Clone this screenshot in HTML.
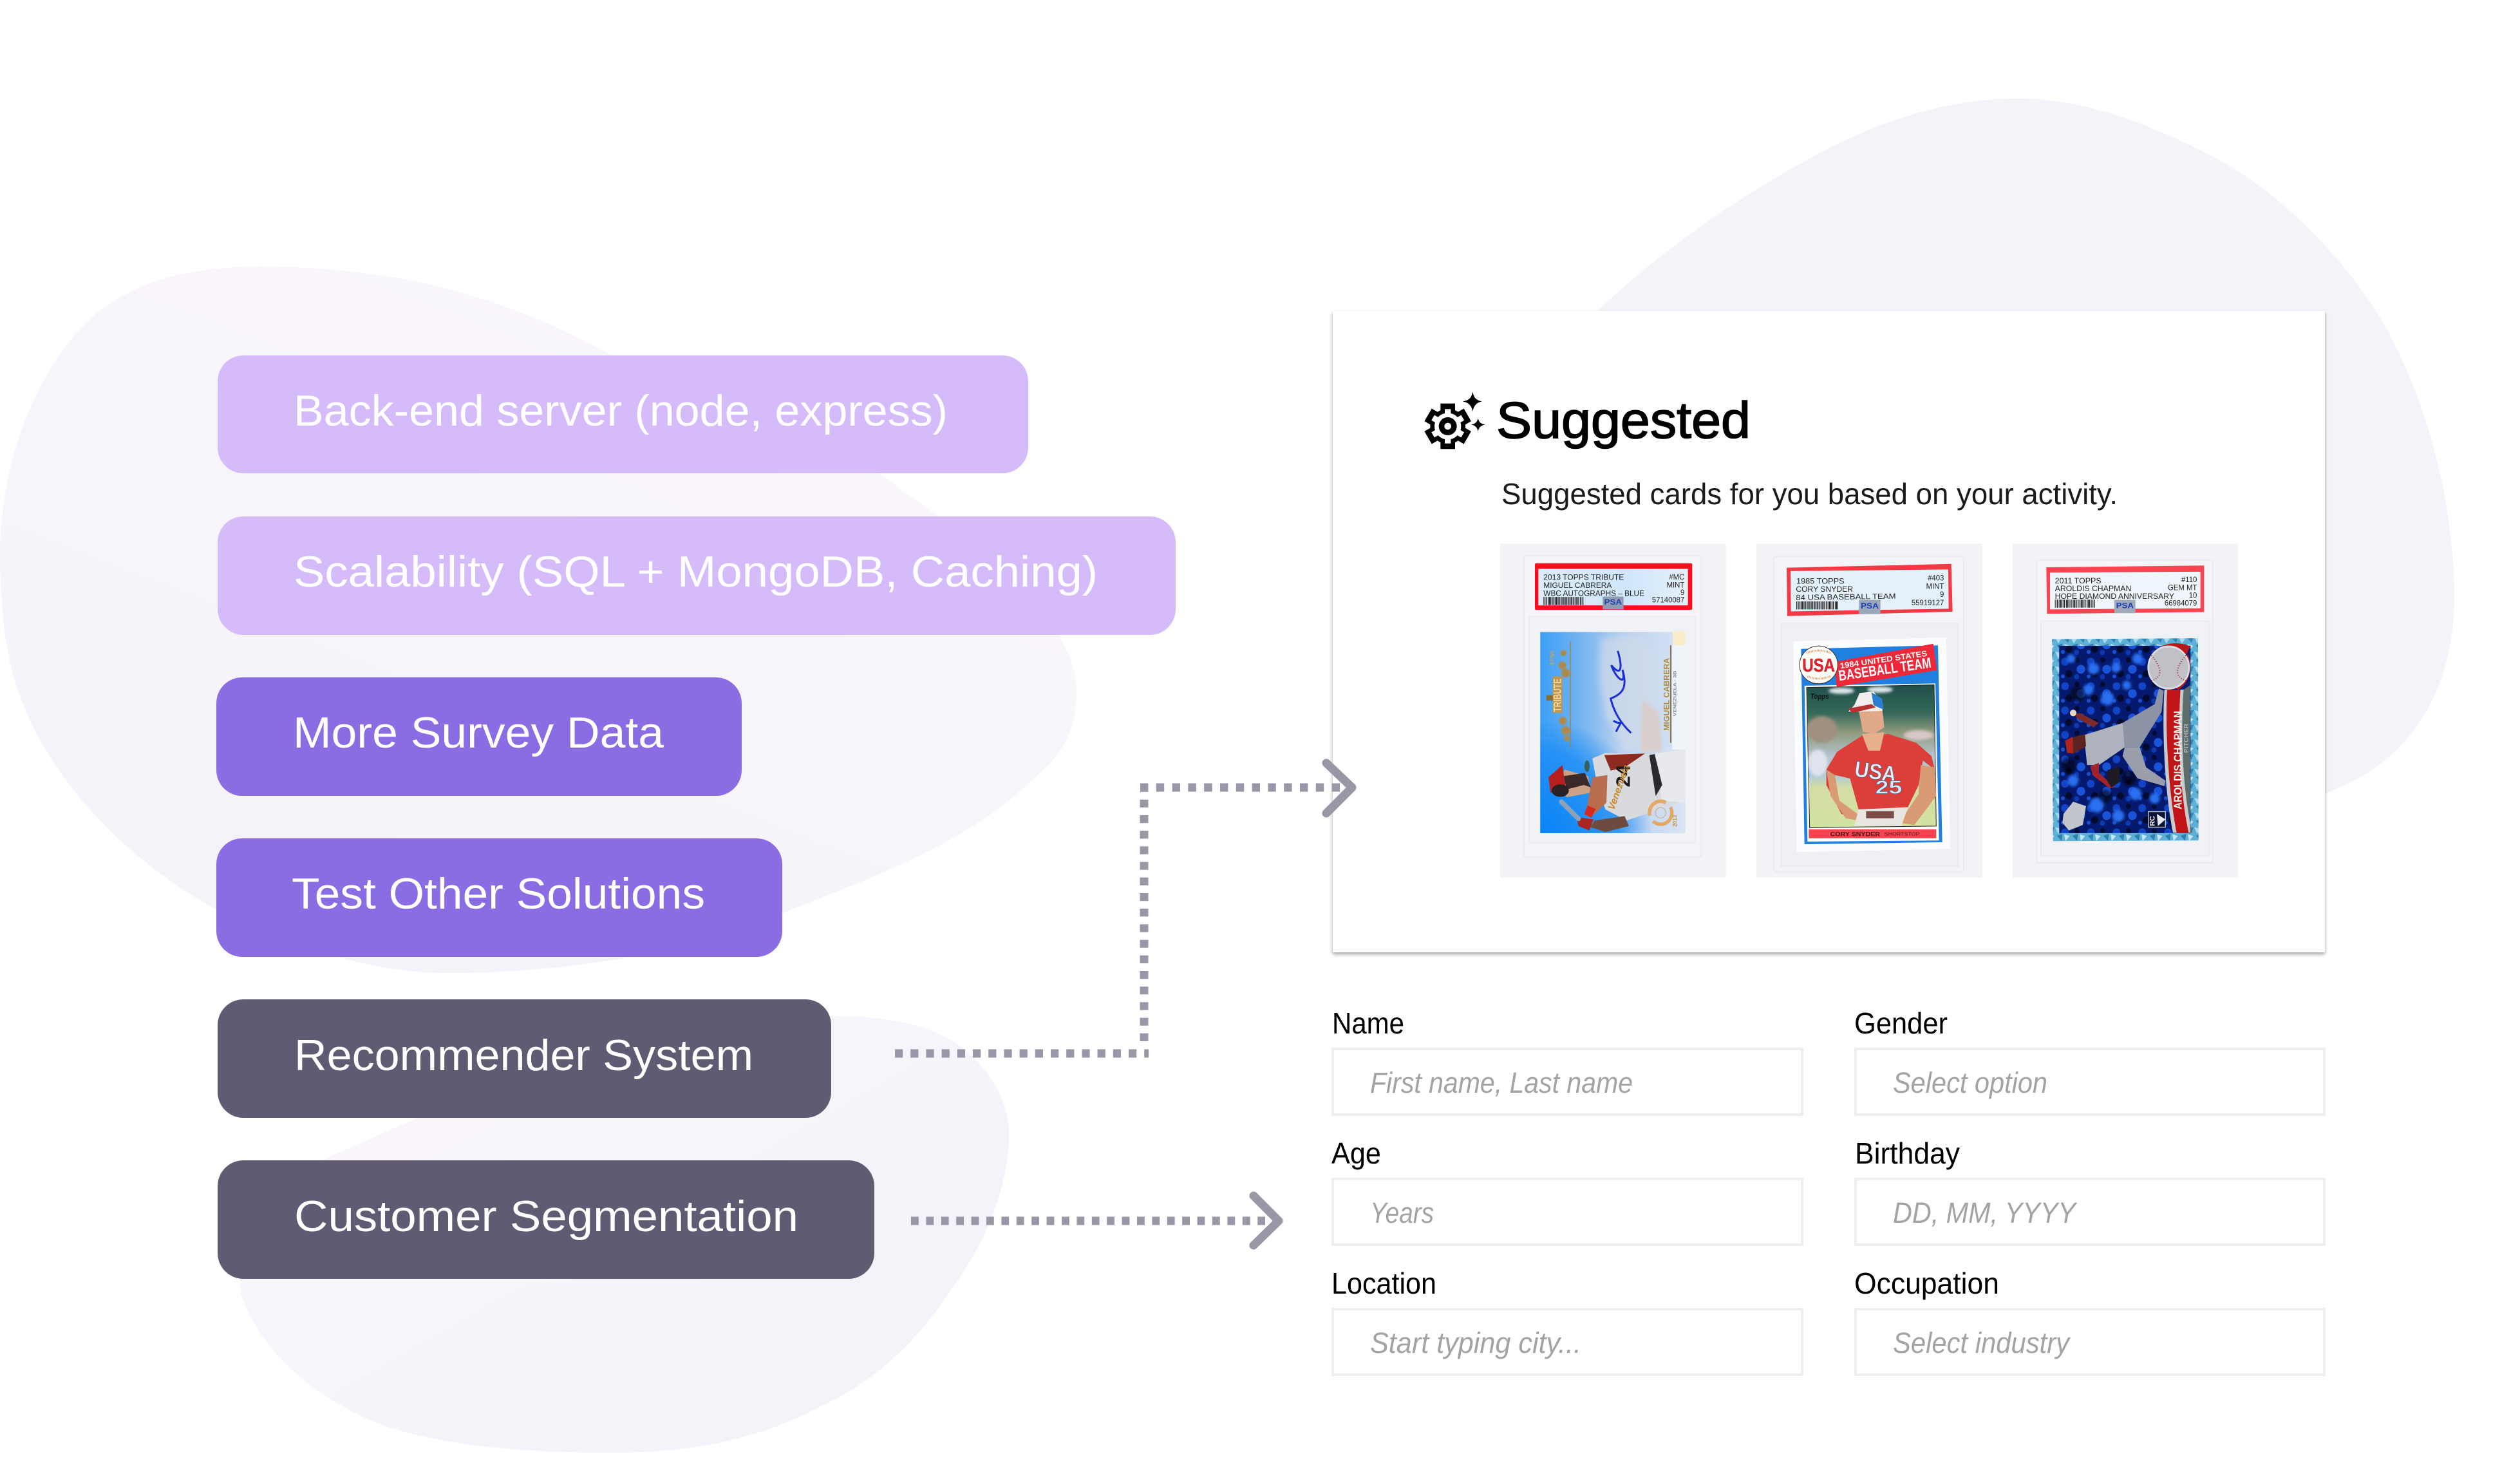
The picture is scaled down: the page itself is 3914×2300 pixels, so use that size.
<!DOCTYPE html>
<html><head><meta charset="utf-8"><title>Recommender diagram</title>
<style>html,body{margin:0;padding:0;background:#fff}svg{display:block}text{font-family:"Liberation Sans",sans-serif}</style></head>
<body>
<svg width="3914" height="2300" viewBox="0 0 3914 2300" xmlns="http://www.w3.org/2000/svg">
<defs>
<filter id="b2" x="-20%" y="-20%" width="140%" height="140%"><feGaussianBlur stdDeviation="2"/></filter>
<filter id="b6" x="-20%" y="-20%" width="140%" height="140%"><feGaussianBlur stdDeviation="6"/></filter>
<filter id="b14" x="-30%" y="-30%" width="160%" height="160%"><feGaussianBlur stdDeviation="14"/></filter>
<filter id="sh" x="-3%" y="-3%" width="106%" height="106%"><feDropShadow dx="0" dy="3" stdDeviation="3" flood-color="#555" flood-opacity=".55"/></filter>
<linearGradient id="bl" x1="1" y1="0" x2="0.4" y2="1"><stop offset="0" stop-color="#fbf7fc"/><stop offset="1" stop-color="#f5f2fa"/></linearGradient>
<linearGradient id="bl2" x1="0" y1="0" x2="1" y2="1"><stop offset="0" stop-color="#fbf7fc"/><stop offset=".7" stop-color="#f5f2fa"/></linearGradient>
<linearGradient id="sky" gradientUnits="userSpaceOnUse" x1="217" y1="0" x2="893" y2="0"><stop offset="0" stop-color="#3d9ff5"/><stop offset=".3" stop-color="#78b5f1"/><stop offset=".55" stop-color="#b6cfee"/><stop offset="1" stop-color="#dae5f4"/></linearGradient>
<radialGradient id="deep" gradientUnits="userSpaceOnUse" cx="217" cy="1347" r="520"><stop offset="0" stop-color="#0a84f7"/><stop offset=".7" stop-color="#1a8cf6" stop-opacity=".8"/><stop offset="1" stop-color="#1a8cf6" stop-opacity="0"/></radialGradient>
<linearGradient id="lab" x1="0" y1="0" x2="1" y2="0"><stop offset="0" stop-color="#dcecf9"/><stop offset=".6" stop-color="#cfe7fb"/><stop offset="1" stop-color="#e6f0fa"/></linearGradient>
<linearGradient id="field" x1="0" y1="0" x2="0" y2="1"><stop offset="0" stop-color="#1f4f49"/><stop offset=".2" stop-color="#37695a"/><stop offset=".33" stop-color="#8e9a7c"/><stop offset=".5" stop-color="#b5c3cf"/><stop offset=".62" stop-color="#a8c8dd"/><stop offset=".72" stop-color="#d5dca6"/><stop offset="1" stop-color="#d2e3a0"/></linearGradient>
<pattern id="spark" width="72" height="66" patternUnits="userSpaceOnUse"><rect width="72" height="66" fill="#5fb0d4"/><polygon points="0,0 30,8 14,30" fill="#a9dcef"/><polygon points="38,4 70,0 60,26" fill="#2f83b5"/><polygon points="8,38 34,30 30,62" fill="#2c7eae"/><polygon points="42,32 68,40 48,62" fill="#c4e8f4"/></pattern>
<pattern id="dark" width="120" height="110" patternUnits="userSpaceOnUse"><rect width="120" height="110" fill="#051a6e"/><circle cx="22" cy="24" r="18" fill="#1143c4"/><circle cx="78" cy="16" r="12" fill="#020b33"/><circle cx="96" cy="58" r="20" fill="#1a52d8"/><circle cx="40" cy="78" r="16" fill="#020a2e"/><circle cx="76" cy="92" r="12" fill="#0d3ab0"/><circle cx="12" cy="90" r="9" fill="#1650d0"/></pattern>
</defs>

<rect width="3914" height="2300" fill="#fff"/>

<!-- background blobs -->
<path d="M0,854 C2,710 60,575 133,502 C200,435 300,414 400,414 C640,414 800,470 948,550 C1130,620 1260,660 1373,741 C1500,830 1672,960 1672,1071 C1672,1150 1640,1180 1597,1217 C1500,1310 1350,1365 1223,1415 C1070,1480 880,1511 699,1511 C560,1511 450,1465 337,1413 C200,1340 60,1200 20,1046 C5,990 0,920 0,854Z" fill="url(#bl)"/>
<path d="M1298,1578 C1400,1578 1470,1600 1510,1640 C1555,1685 1570,1730 1567,1775 C1560,1870 1520,1945 1473,2009 C1420,2090 1350,2150 1273,2185 C1170,2240 1060,2256 948,2256 C810,2256 690,2245 599,2215 C480,2170 400,2090 374,2009 C365,1950 420,1870 503,1800 L644,1738 C860,1620 1100,1578 1298,1578Z" fill="url(#bl2)"/>
<path d="M2482,482 C2580,390 2680,320 2786,260 C2880,205 3000,153 3134,153 C3240,153 3350,195 3462,257 C3550,310 3640,400 3699,497 C3770,620 3811,780 3812,925 C3812,1060 3755,1180 3612,1232 L2482,1232Z" fill="#f5f2fa"/>

<!-- pills -->
<g>
<rect x="338" y="552" width="1259" height="183" rx="40" fill="#d6bbfa"/>
<rect x="338" y="802" width="1488" height="184" rx="40" fill="#d6bbfa"/>
<rect x="336" y="1052" width="816" height="184" rx="40" fill="#8b6de3"/>
<rect x="336" y="1302" width="879" height="184" rx="40" fill="#8b6de3"/>
<rect x="338" y="1552" width="953" height="184" rx="40" fill="#605a72"/>
<rect x="338" y="1802" width="1020" height="184" rx="40" fill="#605a72"/>
</g>
<g fill="#fff" font-size="68">
<text x="456" y="661" textLength="1016" lengthAdjust="spacingAndGlyphs">Back-end server (node, express)</text>
<text x="456" y="911" textLength="1249" lengthAdjust="spacingAndGlyphs">Scalability (SQL + MongoDB, Caching)</text>
<text x="455" y="1161" textLength="576" lengthAdjust="spacingAndGlyphs">More Survey Data</text>
<text x="453" y="1411" textLength="642" lengthAdjust="spacingAndGlyphs">Test Other Solutions</text>
<text x="457" y="1662" textLength="713" lengthAdjust="spacingAndGlyphs">Recommender System</text>
<text x="457" y="1912" textLength="783" lengthAdjust="spacingAndGlyphs">Customer Segmentation</text>
</g>

<!-- suggested panel -->
<rect x="2070" y="483" width="1541" height="996" fill="#fff" filter="url(#sh)"/>

<!-- gear icon -->
<g transform="translate(2200 590) scale(.3333)">
<g fill="#000"><circle cx="146" cy="216" r="82"/>
<rect x="112" y="110" width="68" height="212"/>
<rect x="112" y="110" width="68" height="212" transform="rotate(60 146 216)"/>
<rect x="112" y="110" width="68" height="212" transform="rotate(120 146 216)"/></g>
<g fill="#fff"><circle cx="146" cy="216" r="62"/>
<rect x="132" y="136" width="28" height="160"/>
<rect x="132" y="136" width="28" height="160" transform="rotate(60 146 216)"/>
<rect x="132" y="136" width="28" height="160" transform="rotate(120 146 216)"/></g>
<circle cx="146" cy="216" r="42" fill="#000"/><circle cx="146" cy="216" r="16" fill="#fff"/>
<path d="M262,55 C268,85 280,95 305,100 C280,106 268,118 262,147 C256,118 244,106 215,100 C244,95 256,85 262,55Z" fill="#000"/>
<path d="M287,178 C291,198 300,204 320,208 C300,213 291,220 287,240 C283,220 274,213 255,208 C274,204 283,198 287,178Z" fill="#000"/>
</g>
<text x="2324" y="680" font-size="80" fill="#000" stroke="#000" stroke-width="1.6" textLength="395" lengthAdjust="spacingAndGlyphs">Suggested</text>
<text x="2332" y="783" font-size="46" fill="#1a1a1a" textLength="957" lengthAdjust="spacingAndGlyphs">Suggested cards for you based on your activity.</text>

<!-- CARD 1 -->
<g transform="translate(2320 830) scale(.3333 .3444)">
<rect x="30" y="42" width="1052" height="1506" fill="#f2f3f6"/>
<rect x="140" y="95" width="825" height="1360" rx="10" fill="#f4f5f8" stroke="#e9ebf0" stroke-width="6"/>
<rect x="165" y="370" width="775" height="1020" fill="#f1f2f6" stroke="#e9ebf0" stroke-width="5"/>
<rect x="192" y="130" width="733" height="210" rx="6" fill="#fb0d1e"/>
<rect x="208" y="155" width="697" height="165" fill="url(#lab)"/>
<g font-size="34" fill="#222">
<text x="232" y="205" textLength="375" lengthAdjust="spacingAndGlyphs">2013 TOPPS TRIBUTE</text>
<text x="232" y="241" textLength="318" lengthAdjust="spacingAndGlyphs">MIGUEL CABRERA</text>
<text x="232" y="277" textLength="470" lengthAdjust="spacingAndGlyphs">WBC AUTOGRAPHS – BLUE</text>
<g text-anchor="end"><text x="889" y="203">#MC</text><text x="889" y="239">MINT</text><text x="889" y="273">9</text><text x="889" y="307">57140087</text></g>
</g>
<line x1="232" y1="300" x2="418" y2="300" stroke="#222" stroke-width="36" stroke-dasharray="3 2 2 3 4 2 1 3 3 2 5 2"/>
<rect x="508" y="280" width="97" height="58" fill="#8e9db5"/>
<text x="515" y="316" font-size="34" font-weight="bold" fill="#1c3fa8" textLength="82" lengthAdjust="spacingAndGlyphs">PSA</text>
<!-- card picture -->
<rect x="217" y="440" width="676" height="907" fill="url(#sky)"/>
<rect x="217" y="830" width="520" height="517" fill="url(#deep)"/>
<polygon points="500,470 690,460 750,540 745,960 620,990 520,820 490,640" fill="#d6dde9" opacity=".6" filter="url(#b14)"/>
<polygon points="690,740 770,800 785,975 685,985" fill="#d8cfcd" filter="url(#b6)"/>
<polygon points="835,436 893,436 893,500 835,500" fill="#f9eec9"/>
<rect x="832" y="500" width="61" height="470" fill="#eff4fb"/>
<line x1="825" y1="500" x2="825" y2="940" stroke="#8f7444" stroke-width="6"/>
<line x1="357" y1="482" x2="357" y2="960" stroke="#a0843f" stroke-width="4"/>
<g fill="#b08a44" filter="url(#b2)" opacity=".95">
<circle cx="325" cy="535" r="14"/><circle cx="320" cy="590" r="18"/><circle cx="335" cy="625" r="20"/><circle cx="322" cy="840" r="18"/><circle cx="335" cy="885" r="20"/><circle cx="340" cy="920" r="13"/>
</g>
<rect x="275" y="640" width="45" height="165" fill="#bd9650"/>
<rect x="245" y="725" width="30" height="24" fill="#8a6b35"/>
<text transform="translate(313 800) rotate(-90)" font-size="50" font-weight="bold" fill="#f2d89a" font-family="Liberation Serif" textLength="150" lengthAdjust="spacingAndGlyphs">TRIBUTE</text>
<text transform="translate(280 590) rotate(-90)" font-size="26" font-weight="bold" fill="#c7a55a">47/50</text>
<path d="M578,525 C598,590 600,650 548,590 C570,650 620,690 600,610 C625,690 600,720 545,740 C560,800 590,850 640,895 M558,840 C600,870 610,810 570,890" fill="none" stroke="#1a2fd4" stroke-width="9"/>
<text transform="translate(818 885) rotate(-90)" font-size="36" font-weight="bold" fill="#b08a3e" font-family="Liberation Serif" textLength="328" lengthAdjust="spacingAndGlyphs">MIGUEL CABRERA</text>
<text transform="translate(850 820) rotate(-90)" font-size="20" font-weight="bold" fill="#7a8190" textLength="205" lengthAdjust="spacingAndGlyphs">VENEZUELA - 3B</text>
<!-- batter -->
<polygon points="460,1010 520,985 720,990 893,968 893,1200 770,1240 620,1290 520,1240 480,1120" fill="#d9dade"/>
<polygon points="740,990 893,968 893,1210 780,1200 770,1090" fill="#e7e9ef"/>
<polygon points="515,995 705,988 610,1050 545,1065" fill="#8f2a20"/>
<polygon points="725,995 750,990 785,1130 755,1180" fill="#2a2a2e"/>
<polygon points="330,1060 440,1090 452,1165 340,1185 300,1130" fill="#cba286"/>
<polygon points="325,1090 425,1075 452,1140 420,1130 340,1150" fill="#3a2a2b"/>
<polygon points="255,1095 320,1040 335,1140 265,1165" fill="#b5201e"/>
<ellipse cx="310" cy="1155" rx="40" ry="28" fill="#2a2123"/>
<polygon points="460,1095 530,1085 525,1210 465,1265 435,1225" fill="#b86e4e"/>
<polygon points="437,1222 475,1238 455,1278 422,1262" fill="#d62a20"/>
<polygon points="385,1275 465,1285 445,1335 395,1315" fill="#a8261f"/>
<line x1="315" y1="1205" x2="395" y2="1282" stroke="#8da1ba" stroke-width="22" stroke-linecap="round"/>
<polygon points="470,1290 610,1270 630,1315 520,1342 450,1320" fill="#6d4b3f"/>
<ellipse cx="435" cy="1045" rx="12" ry="26" fill="#385f5a"/>
<text transform="translate(635 1140) rotate(-90)" font-size="92" font-weight="bold" fill="#1f1a1a">24</text>
<text transform="translate(560 1245) rotate(-70)" font-size="44" font-weight="bold" font-style="italic" fill="#c98a24">Venezuela</text>
<circle cx="778" cy="1255" r="52" fill="none" stroke="#e2a865" stroke-width="16" stroke-dasharray="120 30"/>
<circle cx="778" cy="1255" r="24" fill="none" stroke="#d0a878" stroke-width="3"/>
<text transform="translate(852 1318) rotate(-90)" font-size="24" font-weight="bold" fill="#c29446">2013</text>
</g>

<!-- CARD 2 -->
<g transform="translate(2720 830) scale(.3333 .3444)">
<rect x="24" y="42" width="1053" height="1506" fill="#f2f3f6"/>
<rect x="105" y="100" width="885" height="1420" rx="10" fill="#f3f4f7" stroke="#e9ebef" stroke-width="6"/>
<rect x="140" y="400" width="825" height="1095" fill="#eff0f4" stroke="#e7e9ed" stroke-width="5"/>
<polygon points="165,150 932,133 938,348 168,368" fill="#f23a44"/>
<polygon points="183,165 918,158 920,335 185,347" fill="#e4f1fb"/>
<g font-size="34" fill="#222">
<text x="210" y="222" textLength="224" lengthAdjust="spacingAndGlyphs">1985 TOPPS</text>
<text x="208" y="258" textLength="266" lengthAdjust="spacingAndGlyphs">CORY SNYDER</text>
<text x="208" y="296" textLength="466" lengthAdjust="spacingAndGlyphs" transform="rotate(-.8 208 296)">84 USA BASEBALL TEAM</text>
<g text-anchor="end"><text x="898" y="208">#403</text><text x="898" y="246">MINT</text><text x="898" y="282">9</text><text x="898" y="320">55919127</text></g>
</g>
<line x1="210" y1="320" x2="405" y2="320" stroke="#222" stroke-width="36" stroke-dasharray="3 2 2 3 4 2 1 3 3 2 5 2"/>
<rect x="502" y="295" width="100" height="64" fill="#9aa6b8"/>
<text x="510" y="334" font-size="34" font-weight="bold" fill="#1c3fb8" textLength="84" lengthAdjust="spacingAndGlyphs">PSA</text>
<polygon points="195,482 908,465 928,1418 212,1432" fill="#fbfcfd"/>
<polygon points="232,516 870,500 890,1388 248,1397" fill="#1f80e0"/>
<polygon points="248,682 858,672 875,1380 262,1385" fill="#fff"/>
<polygon points="258,690 852,678 862,1315 272,1322" fill="url(#field)" stroke="#222" stroke-width="3"/>
<g filter="url(#b6)"><ellipse cx="420" cy="705" rx="60" ry="14" fill="#dfe6ea"/><ellipse cx="600" cy="700" rx="60" ry="14" fill="#dfe6ea"/><ellipse cx="310" cy="1030" rx="45" ry="60" fill="#dfe3ee"/><ellipse cx="780" cy="905" rx="70" ry="22" fill="#d7c7c7"/><ellipse cx="330" cy="880" rx="70" ry="60" fill="#a0907f"/></g>
<!-- player -->
<polygon points="350,1060 400,980 520,905 640,900 770,940 840,1000 855,1060 800,1020 780,1130 730,1230 500,1240 460,1100 390,1085 400,1190 470,1280 420,1260 350,1130" fill="#dc3e3a"/>
<polygon points="790,1040 855,1050 862,1180 760,1310 690,1300 780,1170" fill="#d89b74"/>
<polygon points="350,1060 390,1085 410,1200 495,1260 500,1290 440,1280 370,1180" fill="#d89b74"/>
<polygon points="500,1240 730,1230 700,1315 480,1315" fill="#e9e5e0"/>
<rect x="535" y="1248" width="130" height="32" fill="#7c4b45"/>
<polygon points="516,900 620,892 600,975 545,975" fill="#e6b08c"/>
<polygon points="500,790 610,780 620,870 570,900 520,890" fill="#e0a98a"/>
<polygon points="480,770 505,715 570,708 615,770 610,795 480,800 452,798" fill="#f2eeee"/>
<polygon points="560,712 610,740 617,790 570,770" fill="#2a7fd0"/>
<polygon points="452,785 560,765 580,780 470,805" fill="#b83030"/>
<text x="478" y="1090" font-size="100" font-weight="bold" fill="#e7f0f8" stroke="#3d5f90" stroke-width="2" textLength="195" lengthAdjust="spacingAndGlyphs" transform="rotate(8 478 1090)">USA</text>
<text x="578" y="1168" font-size="84" font-weight="bold" fill="#dbeaf6" stroke="#3d5f90" stroke-width="2" textLength="125" lengthAdjust="spacingAndGlyphs">25</text>
<text x="276" y="742" font-size="34" font-weight="bold" font-style="italic" fill="#111" textLength="86" lengthAdjust="spacingAndGlyphs">Topps</text>
<!-- banner -->
<polygon points="388,575 848,493 865,612 398,688" fill="#ee2838"/>
<text transform="translate(415 605) rotate(-8)" font-size="36" font-weight="bold" fill="#fff" textLength="410" lengthAdjust="spacingAndGlyphs">1984 UNITED STATES</text>
<text transform="translate(410 660) rotate(-8)" font-size="66" font-weight="bold" fill="#fff" textLength="435" lengthAdjust="spacingAndGlyphs">BASEBALL TEAM</text>
<ellipse cx="314" cy="588" rx="89" ry="85" fill="#fdfdf8" stroke="#333" stroke-width="3"/>
<text x="238" y="618" font-size="84" font-weight="bold" fill="#e3202e" stroke="#7a1010" stroke-width="1" textLength="152" lengthAdjust="spacingAndGlyphs">USA</text>
<path d="M258,535 Q315,512 370,535" fill="none" stroke="#e08a60" stroke-width="9" stroke-dasharray="3 4"/>
<path d="M262,640 Q315,660 368,640" fill="none" stroke="#e08a60" stroke-width="9" stroke-dasharray="3 4"/>
<rect x="268" y="1330" width="594" height="40" fill="#f5444f"/>
<text x="368" y="1361" font-size="26" font-weight="bold" fill="#4a1518" font-family="Liberation Serif" textLength="232" lengthAdjust="spacingAndGlyphs">CORY SNYDER</text>
<text x="620" y="1358" font-size="22" fill="#4a1518" font-family="Liberation Serif" textLength="165" lengthAdjust="spacingAndGlyphs">SHORTSTOP</text>
</g>

<!-- CARD 3 -->
<g transform="translate(3120 830) scale(.3333 .3444)">
<rect x="18" y="42" width="1050" height="1506" fill="#f2f3f6"/>
<rect x="130" y="115" width="820" height="1365" rx="10" fill="#f4f5f8" stroke="#e9ebef" stroke-width="6"/>
<rect x="150" y="390" width="785" height="1060" fill="#f1f2f6" stroke="#e9ebef" stroke-width="5"/>
<polygon points="175,148 910,140 910,350 178,358" fill="#fb4451"/>
<polygon points="192,172 893,168 893,333 192,338" fill="#eef5fb"/>
<g font-size="34" fill="#222">
<text x="215" y="220" textLength="216" lengthAdjust="spacingAndGlyphs">2011 TOPPS</text>
<text x="215" y="255" textLength="356" lengthAdjust="spacingAndGlyphs">AROLDIS CHAPMAN</text>
<text x="215" y="291" textLength="556" lengthAdjust="spacingAndGlyphs">HOPE DIAMOND ANNIVERSARY</text>
<g text-anchor="end"><text x="877" y="215">#110</text><text x="877" y="251">GEM MT</text><text x="877" y="286">10</text><text x="877" y="321">66984079</text></g>
</g>
<line x1="215" y1="312" x2="402" y2="312" stroke="#222" stroke-width="36" stroke-dasharray="3 2 2 3 4 2 1 3 3 2 5 2"/>
<rect x="492" y="295" width="98" height="60" fill="#a0aab9"/>
<text x="500" y="333" font-size="34" font-weight="bold" fill="#1c3fb8" textLength="82" lengthAdjust="spacingAndGlyphs">PSA</text>
<polygon points="202,472 882,468 884,1380 206,1383" fill="url(#spark)"/>
<rect x="235" y="502" width="612" height="845" fill="url(#dark)"/>
<g filter="url(#b6)" fill="#2a6ff0">
<circle cx="395" cy="605" r="26"/><circle cx="500" cy="600" r="22"/><circle cx="290" cy="560" r="20"/><circle cx="460" cy="740" r="30"/><circle cx="550" cy="680" r="20"/><circle cx="600" cy="560" r="24"/><circle cx="370" cy="700" r="24"/><circle cx="300" cy="1110" r="26"/><circle cx="410" cy="1220" r="34"/><circle cx="510" cy="1270" r="28"/><circle cx="590" cy="1170" r="28"/><circle cx="680" cy="1190" r="24"/><circle cx="620" cy="880" r="22"/>
</g>
<g fill="#000" opacity=".55" filter="url(#b6)"><circle cx="320" cy="720" r="34"/><circle cx="280" cy="1040" r="34"/><circle cx="450" cy="1180" r="30"/><circle cx="560" cy="1100" r="34"/></g>
<!-- ribbon + ball -->
<path d="M725,700 L815,700 C800,900 810,1150 855,1345 L765,1345 C730,1180 712,900 725,700Z" fill="#c8cacc"/>
<path d="M738,700 L800,700 C787,900 795,1150 838,1345 L782,1345 C748,1180 727,900 738,700Z" fill="#c01418"/>
<path d="M815,700 L845,680 L845,1345 L855,1345 C810,1150 800,900 815,700Z" fill="#5c6e6a"/>
<path d="M650,570 C680,490 780,475 845,505 L830,540 C760,515 690,530 660,590Z" fill="#b81a1a"/>
<path d="M835,540 C860,610 840,670 790,700 L775,690 C820,660 840,610 825,550Z" fill="#b81a1a"/>
<circle cx="745" cy="600" r="95" fill="#bfc1c7" stroke="#dcdde0" stroke-width="8"/>
<path d="M665,545 Q745,640 660,660 M825,545 Q745,640 830,660" fill="none" stroke="#a31b1b" stroke-width="6" stroke-dasharray="3 8"/>
<text transform="translate(806 1240) rotate(-90)" font-size="52" font-weight="bold" fill="#f4f0ea" font-family="Liberation Serif" textLength="445" lengthAdjust="spacingAndGlyphs">AROLDIS CHAPMAN</text>
<text transform="translate(836 985) rotate(-90)" font-size="28" font-weight="bold" fill="#aeb3b8" textLength="132" lengthAdjust="spacingAndGlyphs">PITCHER</text>
<!-- pitcher -->
<polygon points="530,850 680,765 700,695 722,705 712,800 610,960 530,960" fill="#8c93a5"/>
<polygon points="540,960 610,960 640,1050 730,1110 725,1135 600,1100 530,1000" fill="#9a9daa"/>
<polygon points="350,905 530,850 540,960 420,1040 365,1040" fill="#aeb2bd"/>
<polygon points="305,810 330,805 420,850 395,870 320,830" fill="#7f2a2a"/>
<circle cx="300" cy="805" r="15" fill="#e8d8c4"/>
<polygon points="265,940 300,915 355,900 360,955 300,990 275,985" fill="#5c2420"/>
<polygon points="262,930 298,912 300,985 272,985" fill="#b02420"/>
<polygon points="380,1045 420,1030 420,1075 495,1140 470,1145 390,1085" fill="#a2242a"/>
<polygon points="460,1062 515,1048 518,1115 478,1142 458,1110" fill="#1f1b24"/>
<polygon points="255,1260 300,1205 360,1225 345,1310 280,1335 250,1300" fill="#c2c6cc"/>
<rect x="650" y="1250" width="80" height="70" fill="#0a1436" stroke="#c9cdd4" stroke-width="4"/>
<text transform="translate(680 1315) rotate(-90)" font-size="32" font-weight="bold" fill="#fff">RC</text>
<polygon points="690,1260 730,1285 695,1315" fill="#e8e8ee"/>
</g>

<!-- form -->
<g fill="#fff" stroke="#eeeeee" stroke-width="4">
<rect x="2070" y="1629" width="729" height="102"/>
<rect x="2882" y="1629" width="728" height="102"/>
<rect x="2070" y="1831" width="729" height="102"/>
<rect x="2882" y="1831" width="728" height="102"/>
<rect x="2070" y="2033" width="729" height="102"/>
<rect x="2882" y="2033" width="728" height="102"/>
</g>
<g font-size="46" fill="#000">
<text x="2069" y="1605" textLength="112" lengthAdjust="spacingAndGlyphs">Name</text>
<text x="2880" y="1605" textLength="145" lengthAdjust="spacingAndGlyphs">Gender</text>
<text x="2068" y="1807" textLength="77" lengthAdjust="spacingAndGlyphs">Age</text>
<text x="2881" y="1807" textLength="163" lengthAdjust="spacingAndGlyphs">Birthday</text>
<text x="2068" y="2009" textLength="163" lengthAdjust="spacingAndGlyphs">Location</text>
<text x="2880" y="2009" textLength="225" lengthAdjust="spacingAndGlyphs">Occupation</text>
</g>
<g font-size="45" font-style="italic" fill="#a3a3a3">
<text x="2128" y="1697" textLength="408" lengthAdjust="spacingAndGlyphs">First name, Last name</text>
<text x="2940" y="1697" textLength="240" lengthAdjust="spacingAndGlyphs">Select option</text>
<text x="2128" y="1899" textLength="99" lengthAdjust="spacingAndGlyphs">Years</text>
<text x="2940" y="1899" textLength="284" lengthAdjust="spacingAndGlyphs">DD, MM, YYYY</text>
<text x="2128" y="2101" textLength="328" lengthAdjust="spacingAndGlyphs">Start typing city...</text>
<text x="2940" y="2101" textLength="274" lengthAdjust="spacingAndGlyphs">Select industry</text>
</g>

<!-- connectors -->
<g fill="none" stroke="#9a96a8">
<path d="M1390,1636 H1784" stroke-width="13" stroke-dasharray="12.2 12"/>
<path d="M1777,1617 V1229" stroke-width="13" stroke-dasharray="12.2 12"/>
<path d="M1771,1223 H2082" stroke-width="13" stroke-dasharray="12.4 12.4"/>
<path d="M1415,1896 H1970" stroke-width="13" stroke-dasharray="11.8 11.6"/>
<path d="M2060,1185 L2100,1223 L2060,1263" stroke-width="13" stroke-linecap="round" stroke-linejoin="round"/>
<path d="M1947,1857 L1986,1896 L1947,1934" stroke-width="13" stroke-linecap="round" stroke-linejoin="round"/>
</g>
</svg>
</body></html>
